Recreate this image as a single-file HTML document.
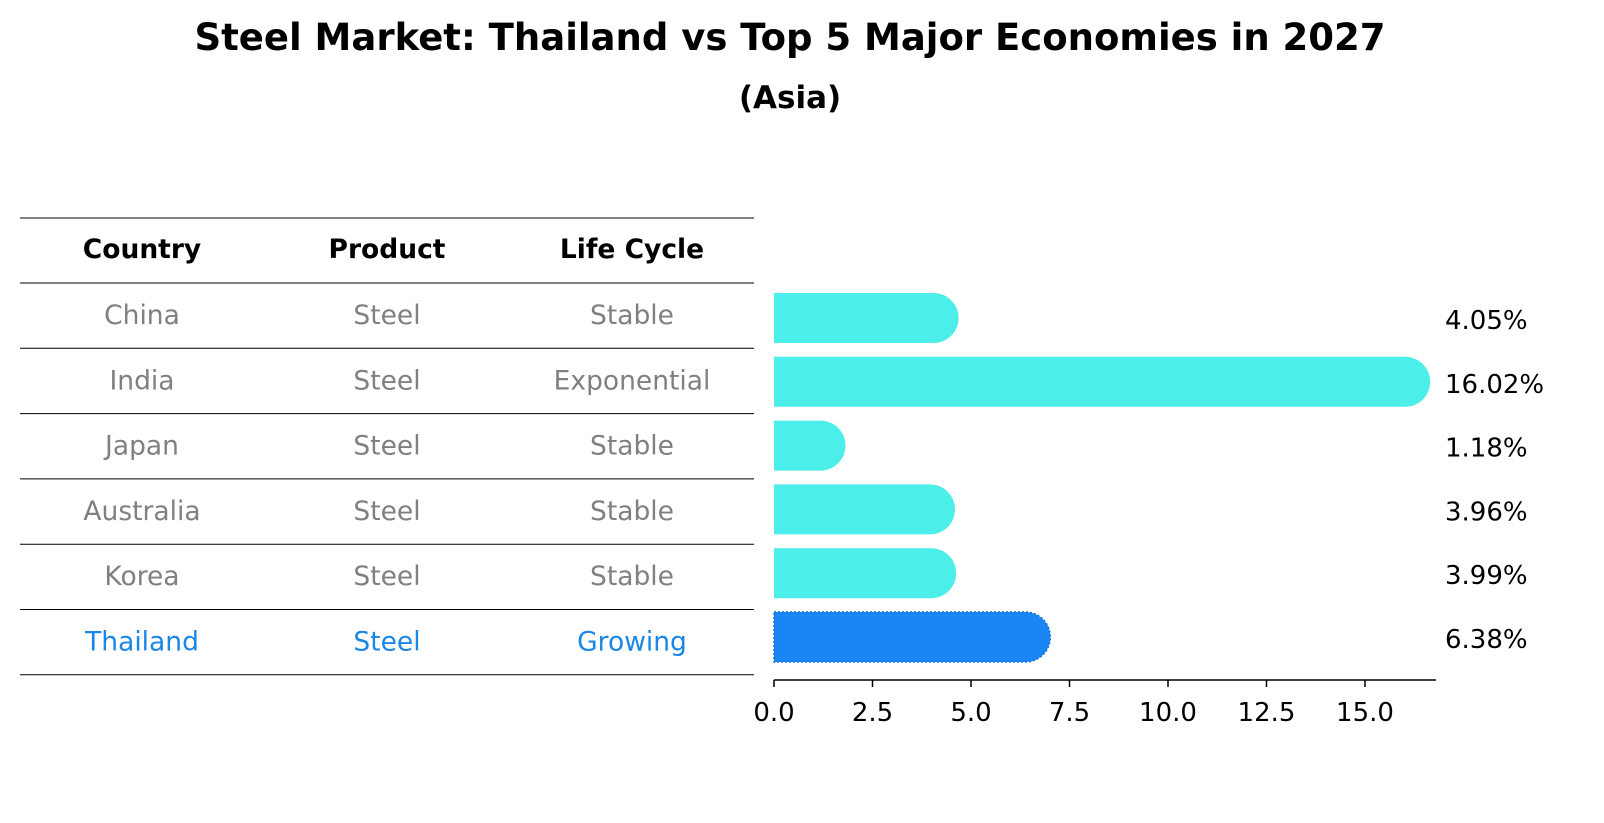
<!DOCTYPE html>
<html><head><meta charset="utf-8"><style>
body{margin:0;background:#fff;font-family:"Liberation Sans","DejaVu Sans",sans-serif}
#wrap{position:relative;width:1604px;height:823px;overflow:hidden}
</style></head><body><div id="wrap">
<svg id="svg" width="1604" height="823" xmlns="http://www.w3.org/2000/svg">
<text x="790" y="50" text-anchor="middle" font-size="37" font-weight="bold" font-family="DejaVu Sans, sans-serif">Steel Market: Thailand vs Top 5 Major Economies in 2027</text>
<text x="790" y="108" text-anchor="middle" font-size="31" font-weight="bold" font-family="DejaVu Sans, sans-serif">(Asia)</text>
<g id="table"></g>
<g id="bars"></g>
</svg></div>
<script>
const countries=["China","India","Japan","Australia","Korea","Thailand"];
const products=["Steel","Steel","Steel","Steel","Steel","Steel"];
const lifecycles=["Stable","Exponential","Stable","Stable","Stable","Growing"];
const growth=[4.05,16.02,1.18,3.96,3.99,6.38];
const ticks=[0,2.5,5,7.5,10,12.5,15];
const NS="http://www.w3.org/2000/svg";
function mk(tag,attrs,parent){const e=document.createElementNS(NS,tag);for(const k in attrs)e.setAttribute(k,attrs[k]);parent.appendChild(e);return e;}
const x0=774,ppu=39.4;
const xs=v=>x0+v*ppu;
const tbl=document.getElementById('table');
const lineYs=[218,283];
for(let i=1;i<=countries.length;i++)lineYs.push(283+i*65.3);
lineYs.forEach((y,i)=>{const l=mk('line',{x1:20,x2:754,y1:y,y2:y,stroke:'#000','stroke-width':1},tbl);
});
const cols=[142,387,632];const heads=["Country","Product","Life Cycle"];
heads.forEach((h,j)=>{const t=mk('text',{x:cols[j],y:258,'text-anchor':'middle','font-size':26.5,'font-weight':'bold','font-family':'DejaVu Sans, sans-serif'},tbl);t.textContent=h;
});
countries.forEach((c,i)=>{const y=324+i*65.3;const col=c==="Thailand"?'#1a86e8':'#808080';
[c,products[i],lifecycles[i]].forEach((v,j)=>{const t=mk('text',{x:cols[j],y:y,'text-anchor':'middle','font-size':26.5,fill:col,'font-family':'DejaVu Sans, sans-serif'},tbl);t.textContent=v;
});});
const bars=document.getElementById('bars');
const h=50,r=25;
growth.forEach((v,i)=>{const cy=318+i*63.8;const top=cy-h/2;const xe=xs(v);
const th=countries[i]==="Thailand";
const d=`M${x0},${top} L${xe},${top} A${r},${r} 0 0 1 ${xe},${top+h} L${x0},${top+h} Z`;
const p=mk('path',{d:d,fill:th?'#1a86f5':'#4ceee9'},bars);
if(th){p.setAttribute('stroke','#1470d0');p.setAttribute('stroke-width','1.5');p.setAttribute('stroke-dasharray','2,2');}

const t=mk('text',{x:1445,y:cy+11,'font-size':26,'font-family':'DejaVu Sans, sans-serif'},bars);t.textContent=v.toFixed(2)+'%';
});
const ax=mk('line',{x1:x0,x2:1436,y1:680,y2:680,stroke:'#000','stroke-width':1.5},bars);

ticks.forEach(v=>{const l=mk('line',{x1:xs(v),x2:xs(v),y1:680,y2:687,stroke:'#000','stroke-width':1.5},bars);

const t=mk('text',{x:xs(v),y:721,'text-anchor':'middle','font-size':26,'font-family':'DejaVu Sans, sans-serif'},bars);t.textContent=v.toFixed(1);
});
</script></body></html>
